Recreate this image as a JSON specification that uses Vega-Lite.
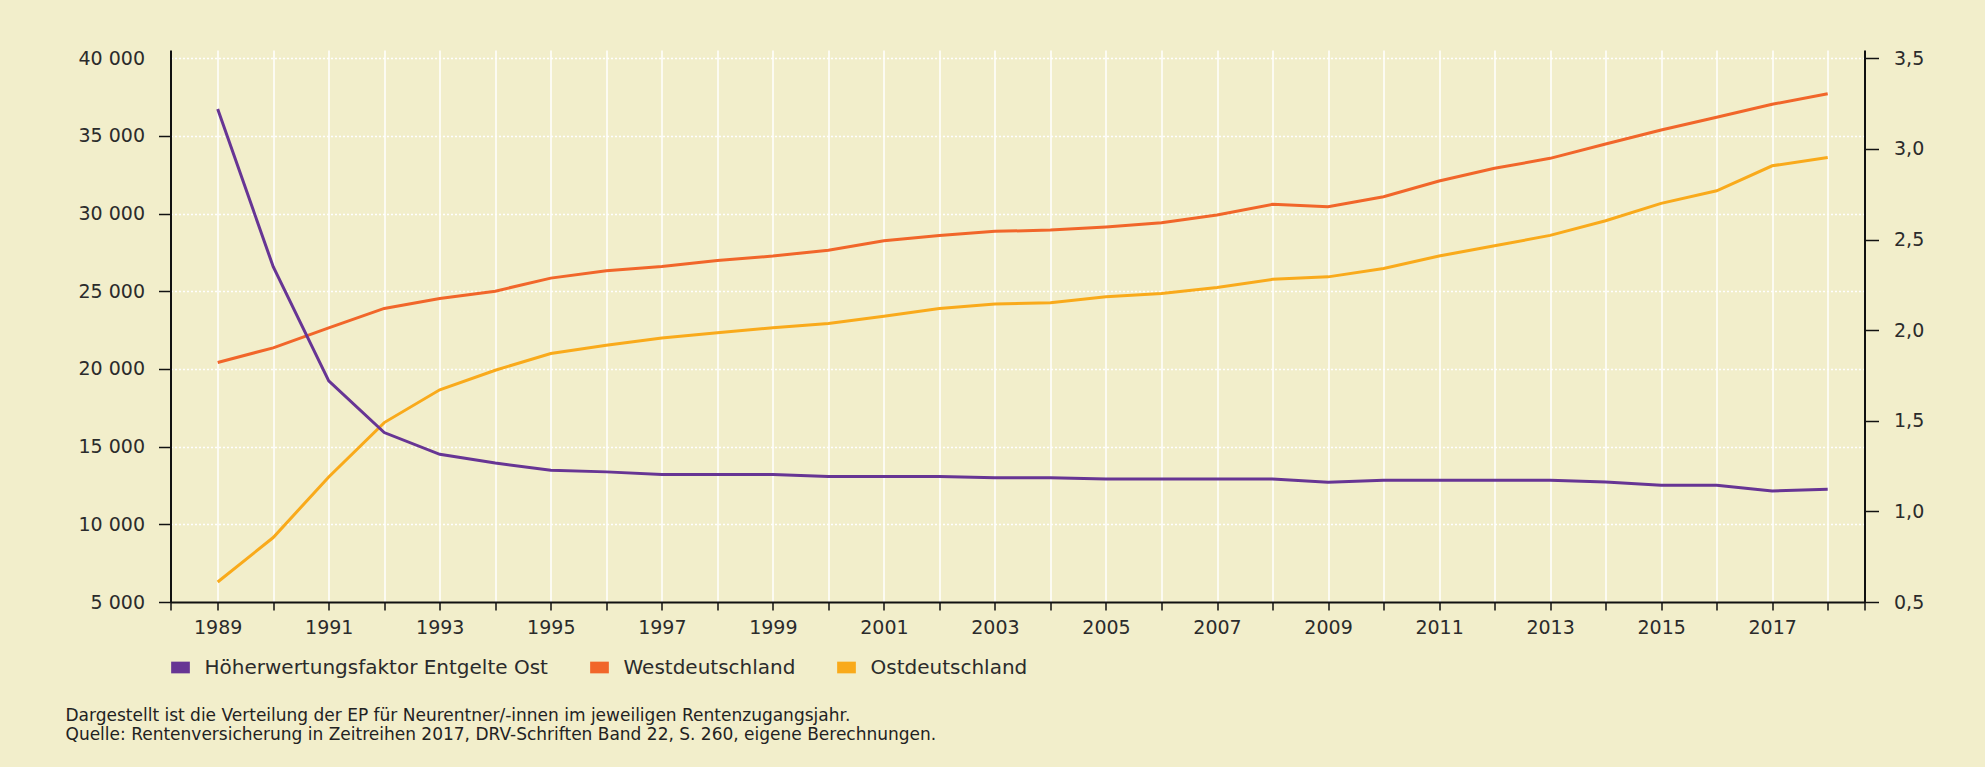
{
  "$schema": "https://vega.github.io/schema/vega-lite/v6.json",
  "width": 1694,
  "height": 552,
  "autosize": {"type": "none"},
  "padding": {"left": 170.5, "top": 50, "right": 120.5, "bottom": 165},
  "background": "#F2EECB",
  "config": {
    "view": {"stroke": null},
    "font": "DejaVu Sans",
    "axis": {"labelFont": "DejaVu Sans", "labelFontSize": 19, "labelColor": "#2b2b2b", "domainColor": "#111111", "domainWidth": 2, "tickColor": "#111111", "tickWidth": 1.5, "title": null}
  },
  "title": {
    "text": ["Dargestellt ist die Verteilung der EP für Neurentner/-innen im jeweiligen Rentenzugangsjahr.", "Quelle: Rentenversicherung in Zeitreihen 2017, DRV-Schriften Band 22, S. 260, eigene Berechnungen."],
    "orient": "bottom",
    "anchor": "start",
    "frame": "group",
    "dx": -105,
    "offset": 30,
    "font": "DejaVu Sans",
    "fontSize": 17,
    "fontWeight": "normal",
    "color": "#222222",
    "lineHeight": 19
  },
  "data": {
    "values": [
      {"year": 1989, "Westdeutschland": 20420, "Ostdeutschland": 6290, "Höherwertungsfaktor Entgelte Ost": 3.22},
      {"year": 1990, "Westdeutschland": 21360, "Ostdeutschland": 9150, "Höherwertungsfaktor Entgelte Ost": 2.35},
      {"year": 1991, "Westdeutschland": 22650, "Ostdeutschland": 13050, "Höherwertungsfaktor Entgelte Ost": 1.72},
      {"year": 1992, "Westdeutschland": 23900, "Ostdeutschland": 16550, "Höherwertungsfaktor Entgelte Ost": 1.435},
      {"year": 1993, "Westdeutschland": 24540, "Ostdeutschland": 18660, "Höherwertungsfaktor Entgelte Ost": 1.315},
      {"year": 1994, "Westdeutschland": 25010, "Ostdeutschland": 19920, "Höherwertungsfaktor Entgelte Ost": 1.267},
      {"year": 1995, "Westdeutschland": 25850, "Ostdeutschland": 21000, "Höherwertungsfaktor Entgelte Ost": 1.227},
      {"year": 1996, "Westdeutschland": 26320, "Ostdeutschland": 21530, "Höherwertungsfaktor Entgelte Ost": 1.218},
      {"year": 1997, "Westdeutschland": 26600, "Ostdeutschland": 22000, "Höherwertungsfaktor Entgelte Ost": 1.203},
      {"year": 1998, "Westdeutschland": 26990, "Ostdeutschland": 22330, "Höherwertungsfaktor Entgelte Ost": 1.203},
      {"year": 1999, "Westdeutschland": 27270, "Ostdeutschland": 22650, "Höherwertungsfaktor Entgelte Ost": 1.203},
      {"year": 2000, "Westdeutschland": 27650, "Ostdeutschland": 22930, "Höherwertungsfaktor Entgelte Ost": 1.192},
      {"year": 2001, "Westdeutschland": 28250, "Ostdeutschland": 23400, "Höherwertungsfaktor Entgelte Ost": 1.192},
      {"year": 2002, "Westdeutschland": 28600, "Ostdeutschland": 23900, "Höherwertungsfaktor Entgelte Ost": 1.192},
      {"year": 2003, "Westdeutschland": 28860, "Ostdeutschland": 24180, "Höherwertungsfaktor Entgelte Ost": 1.185},
      {"year": 2004, "Westdeutschland": 28940, "Ostdeutschland": 24260, "Höherwertungsfaktor Entgelte Ost": 1.185},
      {"year": 2005, "Westdeutschland": 29140, "Ostdeutschland": 24650, "Höherwertungsfaktor Entgelte Ost": 1.179},
      {"year": 2006, "Westdeutschland": 29410, "Ostdeutschland": 24860, "Höherwertungsfaktor Entgelte Ost": 1.179},
      {"year": 2007, "Westdeutschland": 29910, "Ostdeutschland": 25250, "Höherwertungsfaktor Entgelte Ost": 1.179},
      {"year": 2008, "Westdeutschland": 30600, "Ostdeutschland": 25770, "Höherwertungsfaktor Entgelte Ost": 1.179},
      {"year": 2009, "Westdeutschland": 30440, "Ostdeutschland": 25930, "Höherwertungsfaktor Entgelte Ost": 1.161},
      {"year": 2010, "Westdeutschland": 31090, "Ostdeutschland": 26470, "Höherwertungsfaktor Entgelte Ost": 1.172},
      {"year": 2011, "Westdeutschland": 32100, "Ostdeutschland": 27270, "Höherwertungsfaktor Entgelte Ost": 1.172},
      {"year": 2012, "Westdeutschland": 32920, "Ostdeutschland": 27930, "Höherwertungsfaktor Entgelte Ost": 1.172},
      {"year": 2013, "Westdeutschland": 33560, "Ostdeutschland": 28600, "Höherwertungsfaktor Entgelte Ost": 1.172},
      {"year": 2014, "Westdeutschland": 34480, "Ostdeutschland": 29540, "Höherwertungsfaktor Entgelte Ost": 1.162},
      {"year": 2015, "Westdeutschland": 35380, "Ostdeutschland": 30660, "Höherwertungsfaktor Entgelte Ost": 1.144},
      {"year": 2016, "Westdeutschland": 36200, "Ostdeutschland": 31470, "Höherwertungsfaktor Entgelte Ost": 1.144},
      {"year": 2017, "Westdeutschland": 37040, "Ostdeutschland": 33080, "Höherwertungsfaktor Entgelte Ost": 1.113},
      {"year": 2018, "Westdeutschland": 37720, "Ostdeutschland": 33620, "Höherwertungsfaktor Entgelte Ost": 1.122}
    ]
  },
  "encoding": {
    "x": {
      "field": "year",
      "type": "quantitative",
      "scale": {"domain": [1988.15, 2018.663], "nice": false, "zero": false},
      "axis": {
        "values": [1988.15, 1989, 1990, 1991, 1992, 1993, 1994, 1995, 1996, 1997, 1998, 1999, 2000, 2001, 2002, 2003, 2004, 2005, 2006, 2007, 2008, 2009, 2010, 2011, 2012, 2013, 2014, 2015, 2016, 2017, 2018, 2018.663],
        "labelExpr": "datum.value % 2 == 1 ? '' + datum.value : ''",
        "labelOverlap": false,
        "labelFlush": false,
        "grid": true,
        "gridColor": {"condition": {"test": "datum.value % 1 != 0", "value": "transparent"}, "value": "#ffffff"},
        "gridWidth": 1.5,
        "tickSize": 8,
        "labelPadding": 8
      }
    }
  },
  "layer": [
    {
      "transform": [{"fold": ["Westdeutschland", "Ostdeutschland"], "as": ["series", "value"]}],
      "mark": {"type": "line", "strokeWidth": 3},
      "encoding": {
        "y": {
          "field": "value",
          "type": "quantitative",
          "scale": {"domain": [5000, 40534], "nice": false, "zero": false},
          "axis": {
            "orient": "left",
            "values": [5000, 10000, 15000, 20000, 25000, 30000, 35000, 40000],
            "labelExpr": "replace(format(datum.value, ','), ',', ' ')",
            "grid": true,
            "gridColor": {"condition": {"test": "datum.value == 5000", "value": "transparent"}, "value": "#ffffff"},
            "gridDash": [2, 2],
            "gridWidth": 1.5,
            "tickSize": 12,
            "tickColor": {"condition": {"test": "datum.value == 40000", "value": "transparent"}, "value": "#111111"},
            "labelPadding": 14
          }
        },
        "color": {
          "field": "series",
          "type": "nominal",
          "scale": {"domain": ["Höherwertungsfaktor Entgelte Ost", "Westdeutschland", "Ostdeutschland"], "range": ["#673594", "#F1662A", "#F9AA1B"]},
          "legend": {
            "orient": "none",
            "legendX": 0,
            "legendY": 607.5,
            "direction": "horizontal",
            "title": null,
            "padding": 0,
            "symbolType": "M-1,-0.625H1V0.625H-1Z",
            "symbolSize": 350,
            "symbolStrokeWidth": 0,
            "labelFont": "DejaVu Sans",
            "labelFontSize": 20,
            "labelColor": "#2b2b2b",
            "labelOffset": 14,
            "labelLimit": 600,
            "columnPadding": 41,
            "encode": {"symbols": {"update": {"fill": {"scale": "color", "field": "value"}, "opacity": {"value": 1}}}}
          }
        }
      }
    },
    {
      "transform": [{"fold": ["Höherwertungsfaktor Entgelte Ost"], "as": ["series", "value"]}],
      "mark": {"type": "line", "strokeWidth": 3},
      "encoding": {
        "y": {
          "field": "value",
          "type": "quantitative",
          "scale": {"domain": [0.5, 3.5458], "nice": false, "zero": false},
          "axis": {
            "orient": "right",
            "values": [0.5, 1, 1.5, 2, 2.5, 3, 3.5],
            "labelExpr": "replace(format(datum.value, '.1f'), '.', ',')",
            "grid": false,
            "tickSize": 14,
            "labelPadding": 15
          }
        },
        "color": {
          "field": "series",
          "type": "nominal"
        }
      }
    }
  ],
  "resolve": {"scale": {"y": "independent"}, "axis": {"y": "independent"}}
}
